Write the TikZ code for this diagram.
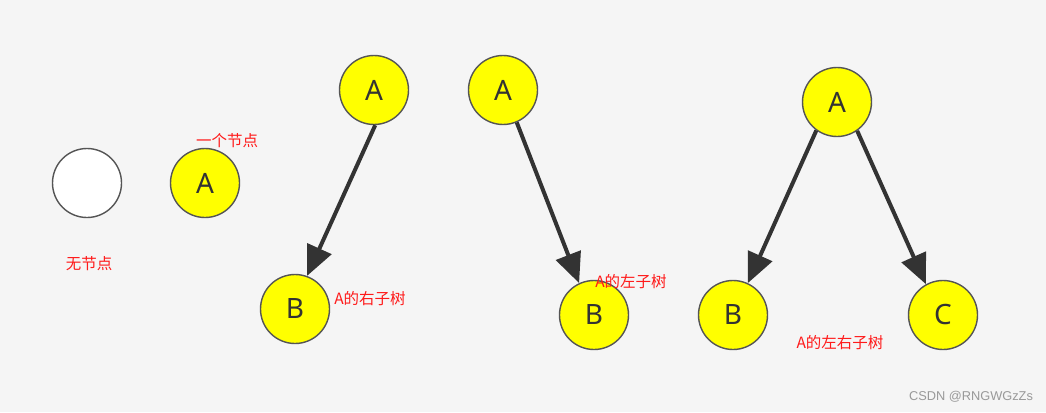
\documentclass[tikz,border=0pt]{standalone}
\usepackage{fontspec}
\setmainfont{Noto Sans}
\newfontfamily\cjk{Noto Sans CJK SC}
\newfontfamily\wm{Liberation Sans}
\usetikzlibrary{arrows.meta}
\definecolor{bg}{HTML}{F5F5F5}
\definecolor{ring}{HTML}{555555}
\definecolor{ink}{HTML}{333333}
\definecolor{lab}{HTML}{FF1A1A}
\definecolor{yel}{HTML}{FFFF00}
\tikzset{
  tn/.style={circle, draw=ring, line width=1.4pt, fill=yel, minimum size=69pt, inner sep=0pt,
    text=ink, font=\fontsize{28}{30}\selectfont},
  en/.style={tn, fill=white},
  edge/.style={draw=ink, line width=4pt, -{Triangle[length=30pt,width=26pt]}, shorten >=0pt},
  lbl/.style={text=lab, font=\cjk\fontsize{15.5}{16}\selectfont, inner sep=0pt},
}
\begin{document}
\begin{tikzpicture}[x=1pt,y=-1pt]
\fill[bg] (0,0) rectangle (1046,412);
\useasboundingbox (0,0) rectangle (1046,412);
% single nodes
\node[en] (e) at (87,183) {};
\node[tn] (s) at (205,183) {A};
\node[lbl] (ls) at (227,141) {一个节点};
\node[lbl] (le) at (89,264) {无节点};
% tree 1
\node[tn] (a1) at (374,90) {A};
\node[tn] (b1) at (295,309) {B};
\draw[edge] (a1.-88) -- (b1.70);
\node[lbl] (l1) at (370,299) {A的右子树};
% tree 2
\node[tn] (a2) at (503,90) {A};
\node[tn] (b2) at (594,315) {B};
\draw[edge] (a2.-67) -- (b2.115);
\node[lbl] (l2) at (631,282) {A的左子树};
% tree 3
\node[tn] (a3) at (837,102) {A};
\node[tn] (b3) at (733,315) {B};
\node[tn] (c3) at (943,315) {C};
\draw[edge] (a3.-126) -- (b3.65);
\draw[edge] (a3.-55) -- (c3.119);
\node[lbl] (l3) at (840,343) {A的左右子树};
% watermark
\node[text=black!40, font=\wm\fontsize{12.8}{14}\selectfont, inner sep=0pt] (wm) at (971,397) {CSDN @RNGWGzZs};
\end{tikzpicture}
\end{document}
